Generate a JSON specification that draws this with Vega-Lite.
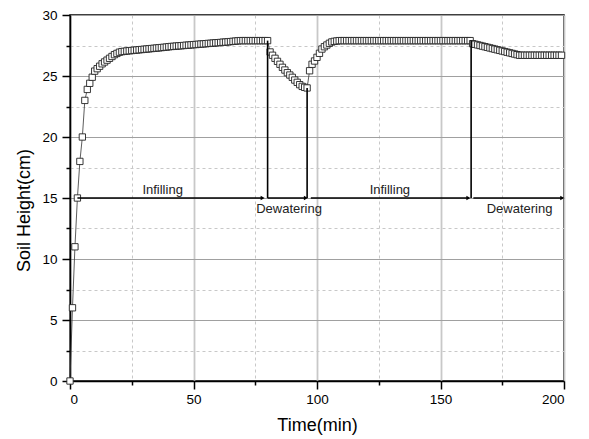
{
  "$schema": "https://vega.github.io/schema/vega-lite/v6.json",
  "width": 494,
  "height": 366,
  "autosize": "none",
  "padding": {"left": 70, "top": 15, "right": 25, "bottom": 58},
  "config": {
    "view": {"stroke": "black", "strokeWidth": 1.5},
    "font": "Liberation Sans",
    "axis": {"labelFont": "Liberation Sans", "titleFont": "Liberation Sans", "labelColor": "black", "titleColor": "black", "domainColor": "black", "tickColor": "black"}
  },
  "datasets": {
    "soil": [
      {"t":0,"h":0},{"t":1,"h":6},{"t":2,"h":11},{"t":3,"h":15},{"t":4,"h":18},{"t":5,"h":20},{"t":6,"h":23},{"t":7,"h":23.9},{"t":8,"h":24.4},{"t":9,"h":24.9},
      {"t":10,"h":25.4},{"t":11,"h":25.6},{"t":12,"h":25.8},{"t":13,"h":26.0},{"t":14,"h":26.15},{"t":15,"h":26.3},{"t":16,"h":26.45},{"t":17,"h":26.6},{"t":18,"h":26.75},{"t":19,"h":26.85},
      {"t":20,"h":26.95},{"t":21,"h":27.0},{"t":22,"h":27.02},{"t":23,"h":27.05},{"t":24,"h":27.07},{"t":25,"h":27.09},{"t":26,"h":27.11},{"t":27,"h":27.13},{"t":28,"h":27.15},{"t":29,"h":27.17},
      {"t":30,"h":27.19},{"t":31,"h":27.21},{"t":32,"h":27.23},{"t":33,"h":27.25},{"t":34,"h":27.27},{"t":35,"h":27.29},{"t":36,"h":27.31},{"t":37,"h":27.33},{"t":38,"h":27.35},{"t":39,"h":27.37},
      {"t":40,"h":27.4},{"t":41,"h":27.42},{"t":42,"h":27.43},{"t":43,"h":27.45},{"t":44,"h":27.47},{"t":45,"h":27.48},{"t":46,"h":27.5},{"t":47,"h":27.52},{"t":48,"h":27.53},{"t":49,"h":27.55},
      {"t":50,"h":27.57},{"t":51,"h":27.58},{"t":52,"h":27.6},{"t":53,"h":27.62},{"t":54,"h":27.63},{"t":55,"h":27.65},{"t":56,"h":27.67},{"t":57,"h":27.68},{"t":58,"h":27.7},{"t":59,"h":27.72},
      {"t":60,"h":27.73},{"t":61,"h":27.75},{"t":62,"h":27.77},{"t":63,"h":27.78},{"t":64,"h":27.8},{"t":65,"h":27.82},{"t":66,"h":27.84},{"t":67,"h":27.86},{"t":68,"h":27.88},{"t":69,"h":27.9},
      {"t":70,"h":27.9},{"t":71,"h":27.9},{"t":72,"h":27.9},{"t":73,"h":27.9},{"t":74,"h":27.9},{"t":75,"h":27.9},{"t":76,"h":27.9},{"t":77,"h":27.9},{"t":78,"h":27.9},{"t":79,"h":27.9},
      {"t":80,"h":27.9},{"t":81,"h":26.97},{"t":82,"h":26.7},{"t":83,"h":26.45},{"t":84,"h":26.2},{"t":85,"h":25.96},{"t":86,"h":25.71},{"t":87,"h":25.49},{"t":88,"h":25.27},{"t":89,"h":25.08},
      {"t":90,"h":24.89},{"t":91,"h":24.67},{"t":92,"h":24.48},{"t":93,"h":24.29},{"t":94,"h":24.15},{"t":95,"h":24.07},{"t":96,"h":24.02},{"t":97,"h":25.43},{"t":98,"h":25.96},{"t":99,"h":26.23},
      {"t":100,"h":26.53},{"t":101,"h":26.86},{"t":102,"h":27.21},{"t":103,"h":27.4},{"t":104,"h":27.54},{"t":105,"h":27.68},{"t":106,"h":27.79},{"t":107,"h":27.84},{"t":108,"h":27.87},{"t":109,"h":27.9},
      {"t":110,"h":27.9},{"t":111,"h":27.9},{"t":112,"h":27.9},{"t":113,"h":27.9},{"t":114,"h":27.9},{"t":115,"h":27.9},{"t":116,"h":27.9},{"t":117,"h":27.9},{"t":118,"h":27.9},{"t":119,"h":27.9},
      {"t":120,"h":27.9},{"t":121,"h":27.9},{"t":122,"h":27.9},{"t":123,"h":27.9},{"t":124,"h":27.9},{"t":125,"h":27.9},{"t":126,"h":27.9},{"t":127,"h":27.9},{"t":128,"h":27.9},{"t":129,"h":27.9},
      {"t":130,"h":27.9},{"t":131,"h":27.9},{"t":132,"h":27.9},{"t":133,"h":27.9},{"t":134,"h":27.9},{"t":135,"h":27.9},{"t":136,"h":27.9},{"t":137,"h":27.9},{"t":138,"h":27.9},{"t":139,"h":27.9},
      {"t":140,"h":27.9},{"t":141,"h":27.9},{"t":142,"h":27.9},{"t":143,"h":27.9},{"t":144,"h":27.9},{"t":145,"h":27.9},{"t":146,"h":27.9},{"t":147,"h":27.9},{"t":148,"h":27.9},{"t":149,"h":27.9},
      {"t":150,"h":27.9},{"t":151,"h":27.9},{"t":152,"h":27.9},{"t":153,"h":27.9},{"t":154,"h":27.9},{"t":155,"h":27.9},{"t":156,"h":27.9},{"t":157,"h":27.9},{"t":158,"h":27.9},{"t":159,"h":27.9},
      {"t":160,"h":27.9},{"t":161,"h":27.9},{"t":162,"h":27.9},{"t":163,"h":27.65},{"t":164,"h":27.6},{"t":165,"h":27.55},{"t":166,"h":27.5},{"t":167,"h":27.45},{"t":168,"h":27.4},{"t":169,"h":27.35},
      {"t":170,"h":27.3},{"t":171,"h":27.25},{"t":172,"h":27.2},{"t":173,"h":27.15},{"t":174,"h":27.1},{"t":175,"h":27.05},{"t":176,"h":27.0},{"t":177,"h":26.95},{"t":178,"h":26.9},{"t":179,"h":26.85},
      {"t":180,"h":26.8},{"t":181,"h":26.75},{"t":182,"h":26.7},{"t":183,"h":26.7},{"t":184,"h":26.7},{"t":185,"h":26.7},{"t":186,"h":26.7},{"t":187,"h":26.7},{"t":188,"h":26.7},{"t":189,"h":26.7},
      {"t":190,"h":26.7},{"t":191,"h":26.7},{"t":192,"h":26.7},{"t":193,"h":26.7},{"t":194,"h":26.7},{"t":195,"h":26.7},{"t":196,"h":26.7},{"t":197,"h":26.7},{"t":198,"h":26.7},{"t":199,"h":26.7}
    ],
    "verticals": [
      {"t":80,"h":15,"h2":27.9},{"t":96,"h":15,"h2":24.02},{"t":162.4,"h":15,"h2":27.9}
    ],
    "arrows": [
      {"t":3,"t2":78,"h":15},{"t":80,"t2":95.5,"h":15},{"t":97.5,"t2":161.3,"h":15},{"t":163.3,"t2":199.3,"h":15}
    ],
    "labels": [
      {"t":37.5,"h":15,"label":"Infilling","pos":"above"},
      {"t":88.7,"h":15,"label":"Dewatering","pos":"below"},
      {"t":129.5,"h":15,"label":"Infilling","pos":"above"},
      {"t":182,"h":15,"label":"Dewatering","pos":"below"}
    ]
  },
  "resolve": {"axis": {"x": "independent", "y": "independent"}},
  "layer": [
    {
      "data": {"name": "soil"},
      "mark": {"type": "line", "color": "#333333", "strokeWidth": 0.8},
      "encoding": {
        "x": {"field": "t", "type": "quantitative", "scale": {"domain": [0, 200], "nice": false, "zero": false},
          "axis": {"orient": "bottom", "values": [25, 75, 125, 175], "labels": false, "domain": false, "title": null, "tickSize": 4, "tickWidth": 1.5,
            "grid": true, "gridDash": [3, 3], "gridColor": "#c8c8c8", "gridWidth": 1}},
        "y": {"field": "h", "type": "quantitative", "scale": {"domain": [0, 30], "nice": false, "zero": false},
          "axis": {"orient": "left", "values": [2.5, 7.5, 12.5, 17.5, 22.5, 27.5], "labels": false, "domain": false, "title": null, "tickSize": 4, "tickWidth": 1.5,
            "grid": true, "gridDash": [3, 3], "gridColor": "#c8c8c8", "gridWidth": 1}}
      }
    },
    {
      "data": {"name": "soil"},
      "mark": {"type": "point", "shape": "square", "size": 40, "filled": false, "fill": "white", "fillOpacity": 1, "stroke": "#222222", "strokeWidth": 0.9, "opacity": 1},
      "encoding": {
        "x": {"field": "t", "type": "quantitative",
          "axis": {"orient": "bottom", "values": [0, 50, 100, 150, 200], "title": "Time(min)", "titleFontSize": 18, "titleFontWeight": "normal", "titlePadding": 11,
            "labelFontSize": 13.5, "labelPadding": 3, "tickSize": 8, "tickWidth": 1.5, "domainWidth": 1.5,
            "grid": true, "gridColor": "#c8c8c8", "gridWidth": 1.8}},
        "y": {"field": "h", "type": "quantitative",
          "axis": {"orient": "left", "values": [0, 5, 10, 15, 20, 25, 30], "title": "Soil Height(cm)", "titleFontSize": 18, "titleFontWeight": "normal", "titlePadding": 8, "titleY": 195,
            "labelFontSize": 13.5, "labelPadding": 5, "tickSize": 8, "tickWidth": 1.5, "domainWidth": 1.5,
            "grid": true, "gridColor": "#a0a0a0", "gridWidth": 1}}
      }
    },
    {
      "data": {"name": "verticals"},
      "mark": {"type": "rule", "color": "black", "strokeWidth": 1.6},
      "encoding": {
        "x": {"field": "t", "type": "quantitative", "axis": null},
        "y": {"field": "h", "type": "quantitative", "axis": null},
        "y2": {"field": "h2"}
      }
    },
    {
      "data": {"name": "arrows"},
      "mark": {"type": "rule", "color": "black", "strokeWidth": 1.6},
      "encoding": {
        "x": {"field": "t", "type": "quantitative", "axis": null},
        "x2": {"field": "t2"},
        "y": {"field": "h", "type": "quantitative", "axis": null}
      }
    },
    {
      "data": {"name": "arrows"},
      "mark": {"type": "point", "shape": "triangle-right", "size": 22, "filled": true, "color": "black", "opacity": 1},
      "encoding": {
        "x": {"field": "t2", "type": "quantitative", "axis": null},
        "y": {"field": "h", "type": "quantitative", "axis": null}
      }
    },
    {
      "data": {"name": "labels"},
      "transform": [{"filter": "datum.pos == 'above'"}],
      "mark": {"type": "text", "font": "Liberation Sans", "fontSize": 13, "color": "#222222", "baseline": "alphabetic", "dy": -4},
      "encoding": {
        "x": {"field": "t", "type": "quantitative", "axis": null},
        "y": {"field": "h", "type": "quantitative", "axis": null},
        "text": {"field": "label"}
      }
    },
    {
      "data": {"name": "labels"},
      "transform": [{"filter": "datum.pos == 'below'"}],
      "mark": {"type": "text", "font": "Liberation Sans", "fontSize": 13, "color": "#222222", "baseline": "top", "dy": 5},
      "encoding": {
        "x": {"field": "t", "type": "quantitative", "axis": null},
        "y": {"field": "h", "type": "quantitative", "axis": null},
        "text": {"field": "label"}
      }
    }
  ]
}
